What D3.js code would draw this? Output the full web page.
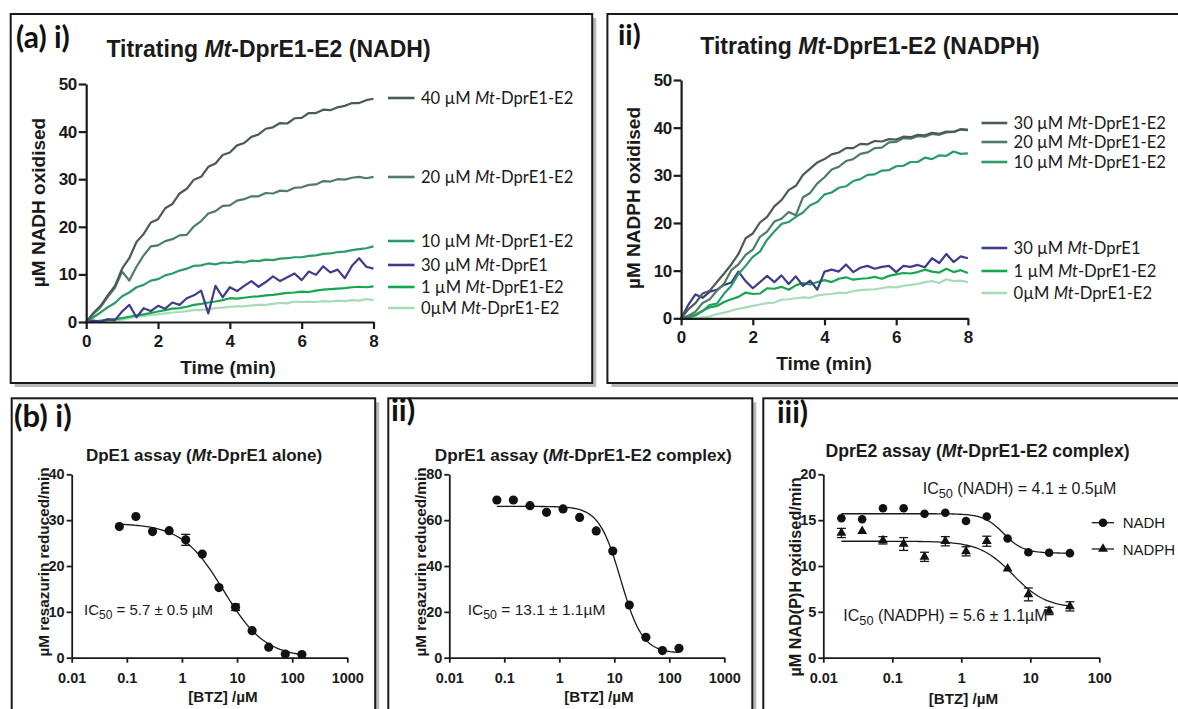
<!DOCTYPE html>
<html>
<head>
<meta charset="utf-8">
<script src="https://cdn.jsdelivr.net/npm/d3@7"></script>
<style>
  body { margin: 0; background: #fff; }
  svg { display: block; }
</style>
</head>
<body>
<svg id="chart" width="1178" height="709"></svg>
<script>
// ---- data: (a) kinetic traces, µM oxidised vs time (min) ----
const timeMin = [0,0.2,0.4,0.6,0.8,1,1.2,1.4,1.6,1.8,2,2.2,2.4,2.6,2.8,3,3.2,3.4,3.6,3.8,4,4.2,4.4,4.6,4.8,5,5.2,5.4,5.6,5.8,6,6.2,6.4,6.6,6.8,7,7.2,7.4,7.6,7.8,8];
const timeTicks = [0, 2, 4, 6, 8];

const nadhLabels = ["40 µM Mt-DprE1-E2", "20 µM Mt-DprE1-E2", "10 µM Mt-DprE1-E2", "30 µM Mt-DprE1", "1 µM Mt-DprE1-E2", "0µM Mt-DprE1-E2"];
const nadh40 = [0,1.9,3.4,5.6,7.6,11.2,13.4,16.8,18.5,20.9,21.6,23.9,24.8,27.0,28.0,29.9,30.5,32.6,33.3,35.1,35.6,37.1,37.6,38.9,39.4,40.6,40.9,41.8,41.7,42.8,42.9,43.9,43.9,44.6,44.5,45.1,45.4,46.0,46.0,46.6,46.9];
const nadh20 = [0,1.7,3.1,5.3,7.2,10.6,8.7,11.6,14.0,15.9,16.1,17.0,17.4,18.2,18.3,20.1,21.2,22.8,23.3,24.4,24.5,25.5,25.8,26.4,26.4,27.1,27.0,27.6,27.5,28.2,28.3,28.8,28.9,29.6,29.5,30.0,29.9,30.3,30.5,30.2,30.5];
const nadh10 = [0,1.0,2.0,3.1,4.0,5.4,6.2,7.3,7.8,8.7,9.0,9.8,10.2,10.8,11.2,11.8,11.9,12.3,12.1,12.5,12.4,12.7,12.5,12.9,12.8,13.1,13.0,13.3,13.4,13.6,13.6,13.9,14.0,14.3,14.4,14.7,14.8,15.1,15.3,15.5,15.9];
const nadhE1 = [0,0.3,0.1,0.6,0.4,2.2,3.6,1.0,2.9,2.3,3.4,2.8,4.1,3.6,5.0,5.6,6.6,1.8,7.6,5.2,7.3,6.5,7.6,8.6,7.4,8.4,9.6,8.6,9.4,10.2,8.8,10.6,9.9,11.7,10.4,11.0,9.2,11.8,13.4,11.6,11.2];
const nadh1 = [0,0.1,0.3,0.4,0.6,0.8,1.1,1.4,1.6,1.9,2.2,2.5,2.8,2.9,3.2,3.6,3.8,4.1,4.3,4.6,5.0,4.9,5.1,5.3,5.4,5.6,5.7,5.9,6.1,6.2,6.4,6.3,6.6,6.8,6.9,7.0,7.1,7.3,7.4,7.3,7.5];
const nadh0 = [0,0,0.1,0.1,0.3,0.5,0.8,1.1,1.3,1.5,1.6,1.8,2.0,2.1,2.3,2.5,2.5,2.7,2.9,3.0,3.2,3.3,3.3,3.5,3.6,3.6,3.8,4.0,3.9,4.3,4.2,4.3,4.2,4.4,4.3,4.5,4.4,4.6,4.5,4.8,4.6];

const nadphLabels = ["30 µM Mt-DprE1-E2", "20 µM Mt-DprE1-E2", "10 µM Mt-DprE1-E2", "30 µM Mt-DprE1", "1 µM Mt-DprE1-E2", "0µM Mt-DprE1-E2"];
const nadph30 = [0,1.9,3.2,5.2,5.8,7.6,9.4,11.3,13.5,16.8,17.8,20.1,21.3,23.5,24.8,26.9,27.8,30.1,31.4,32.7,33.4,34.4,34.8,35.7,35.7,36.6,36.5,37.2,37.1,37.6,37.5,38.1,38.0,38.5,38.4,38.9,38.7,39.2,39.1,39.6,39.5];
const nadph20 = [0,0.5,1.4,3.2,4.0,5.8,7.3,10.1,11.3,13.3,14.4,17.1,18.2,20.3,20.9,22.3,21.6,25.4,26.3,28.3,29.6,31.2,31.8,33.0,33.4,34.5,34.8,35.7,35.8,36.9,37.0,37.8,37.7,38.2,38.1,38.7,38.5,39.0,39.1,39.7,39.6];
const nadph10 = [0,0.1,0.6,1.5,2.8,3.1,5.2,6.8,9.3,11.0,12.9,14.0,16.5,18.2,19.8,20.2,21.3,22.2,23.7,24.4,26.0,26.4,27.4,27.7,28.8,29.2,30.1,30.2,31.0,31.1,31.9,32.0,32.8,32.8,33.7,33.4,34.2,34.1,35.0,34.5,34.6];
const nadphE1 = [0,2.8,5.0,4.3,5.6,6.0,7.0,7.5,9.8,7.8,6.3,7.6,8.9,7.6,9.0,7.2,8.8,6.8,7.9,6.0,9.8,10.2,9.8,11.3,9.7,10.6,11.0,10.4,10.8,11.0,9.7,11.0,10.8,11.2,10.7,12.6,11.6,13.5,11.8,13.0,12.6];
const nadph1 = [0,0.2,0.8,1.6,2.3,2.6,3.4,4.0,4.5,5.4,5.1,5.2,6.3,6.2,6.6,6.0,6.9,7.4,7.1,7.6,8.0,7.6,8.3,8.6,8.1,8.3,8.4,8.7,8.3,8.9,9.2,9.5,9.4,9.7,10.2,9.8,9.6,10.4,9.7,10.1,9.5];
const nadph0 = [0,0,0,0.2,0.4,0.9,1.2,1.6,2.0,2.3,2.6,2.9,3.2,3.3,3.9,4.0,4.2,4.4,4.3,4.8,5.0,5.1,5.4,5.3,5.7,5.9,6.0,6.1,6.3,6.6,6.5,6.8,7.0,7.2,7.6,7.8,7.4,8.2,7.8,7.9,7.6];

// ---- data: (b) BTZ dose responses ----
const logTickLabels = ["0.01", "0.1", "1", "10", "100", "1000"];
const btzHigh = [0.0732,0.146,0.293,0.586,1.17,2.34,4.69,9.38,18.75,37.5,75,150];
const btzLow = [0.0183,0.0366,0.0732,0.146,0.293,0.586,1.17,2.34,4.69,9.38,18.75,37.5];

const dpre1Alone = [28.6,30.8,27.5,27.7,25.7,22.6,15.3,11.0,5.9,2.3,0.8,0.7];
const dpre1AloneErr = [0,0,0,0,1.2,0,0,0.7,0,0,0,0];
const dpre1AloneFit = [29.3, 0, 5.7, 1.15]; // top, bottom, IC50, hill

const dpre1Complex = [68.8,68.8,66.3,63.4,64.9,61.2,55.3,46.5,23.0,8.9,3.1,4.1];
const dpre1ComplexFit = [66, 2, 13.1, 2.2];

const dpre2Nadh = [15.2,15.1,16.3,16.3,15.7,15.8,14.9,15.4,13.0,11.5,11.45,11.4];
const dpre2NadhFit = [15.7, 11.4, 4.1, 3];
const dpre2Nadph = [13.6,13.8,12.8,12.4,11.0,12.7,11.6,12.7,9.7,6.9,5.1,5.6];
const dpre2NadphErr = [0.5,0,0.4,0.7,0.5,0.5,0.5,0.55,0,0.7,0.4,0.5];
const dpre2NadphFit = [12.7, 5.4, 5.6, 1.8];

// ---- drawing ----
const ARIAL = '"Liberation Sans", Arial, sans-serif';
const CALIB = 'Lato, "Open Sans", sans-serif';
const svg = d3.select("#chart");

function panelBox(x, y, w, h) {
  svg.append("rect").attr("x", x + 4).attr("y", y + 4).attr("width", w).attr("height", h).attr("fill", "#b8b8b8");
  svg.append("rect").attr("x", x).attr("y", y).attr("width", w).attr("height", h)
    .attr("fill", "#fff").attr("stroke", "#1a1a1a").attr("stroke-width", 2);
}

// text with the "Mt" part set in italics
function richText(x, y, str, size, weight, family, anchor) {
  const t = svg.append("text").attr("x", x).attr("y", y)
    .attr("font-size", size).attr("font-weight", weight).attr("font-family", family)
    .attr("text-anchor", anchor || "start").attr("fill", "#1a1a1a");
  str.split("Mt").forEach((p, i) => {
    if (i > 0) t.append("tspan").attr("font-style", "italic").text("Mt");
    t.append("tspan").text(p);
  });
  return t;
}

function icText(x, y, sub, rest, size) {
  const t = svg.append("text").attr("x", x).attr("y", y).attr("font-size", size)
    .attr("font-family", ARIAL).attr("fill", "#1a1a1a");
  t.append("tspan").text("IC");
  t.append("tspan").attr("font-size", size * 0.8).attr("dy", 4).text(sub);
  t.append("tspan").attr("dy", -4).text(rest);
}

function panelTag(x, y, str, size) {
  svg.append("text").attr("x", x).attr("y", y).attr("font-size", size).attr("font-weight", "bold")
    .attr("font-family", CALIB).attr("fill", "#111").text(str);
}

function xLabel(x, y, str, size) {
  svg.append("text").attr("x", x).attr("y", y).attr("text-anchor", "middle").attr("font-size", size)
    .attr("font-weight", "bold").attr("font-family", ARIAL).attr("fill", "#1a1a1a").text(str);
}

function styleAxis(g, size, sw) {
  g.attr("font-size", size).attr("font-family", ARIAL).attr("font-weight", "bold");
  g.select(".domain").attr("stroke", "#1a1a1a").attr("stroke-width", sw);
  g.selectAll(".tick line").attr("stroke", "#1a1a1a").attr("stroke-width", sw);
  g.selectAll(".tick text").attr("fill", "#1a1a1a");
}

function yLabel(x, y, str, size) {
  svg.append("text").attr("transform", `translate(${x},${y}) rotate(-90)`)
    .attr("text-anchor", "middle").attr("dominant-baseline", "central")
    .attr("font-size", size).attr("font-weight", "bold").attr("font-family", ARIAL)
    .attr("fill", "#1a1a1a").text(str);
}

function kineticPanel(c) {
  const x = d3.scaleLinear().domain([0, 8]).range(c.xr);
  const y = d3.scaleLinear().domain([0, 50]).range(c.yr);
  const line = d3.line().x((d, i) => x(timeMin[i])).y(d => y(d));
  c.drawOrder.forEach(k => {
    svg.append("path").datum(c.series[k]).attr("d", line).attr("fill", "none")
      .attr("stroke", c.colors[k]).attr("stroke-width", 2.2).attr("stroke-linejoin", "round");
  });
  const gx = svg.append("g").attr("transform", `translate(0,${c.yr[0]})`)
    .call(d3.axisBottom(x).tickValues(timeTicks).tickSize(7).tickSizeOuter(0).tickPadding(6));
  styleAxis(gx, 17, 2.2);
  const gy = svg.append("g").attr("transform", `translate(${c.xr[0]},0)`)
    .call(d3.axisLeft(y).tickValues([0, 10, 20, 30, 40, 50]).tickSize(7.5).tickSizeOuter(0).tickPadding(2));
  styleAxis(gy, 17, 2.2);
  gy.selectAll(".tick text").attr("letter-spacing", -0.5);
  c.labels.forEach((lab, i) => {
    const ly = c.legY[i];
    svg.append("line").attr("x1", c.legX[0]).attr("x2", c.legX[1]).attr("y1", ly).attr("y2", ly)
      .attr("stroke", c.colors[i]).attr("stroke-width", 2.6);
    richText(c.legX[2], ly, lab, 16.6, "normal", CALIB).attr("dominant-baseline", "central");
  });
}

function fourPL(p, xv) { return p[1] + (p[0] - p[1]) / (1 + Math.pow(xv / p[2], p[3])); }

function dosePanel(c) {
  const x = d3.scaleLog().domain(c.xd).range(c.xr);
  const y = d3.scaleLinear().domain(c.yd).range(c.yr);
  c.sets.forEach(s => {
    const lo = Math.log10(s.xs[0]), hi = Math.log10(s.xs[s.xs.length - 1]);
    const pts = d3.range(0, 101).map(i => Math.pow(10, lo + (hi - lo) * i / 100));
    svg.append("path").datum(pts)
      .attr("d", d3.line().x(d => x(d)).y(d => y(fourPL(s.fit, d))))
      .attr("fill", "none").attr("stroke", "#1a1a1a").attr("stroke-width", 1.3);
    if (s.err) {
      s.err.forEach((e, i) => {
        if (!e) return;
        const cx = x(s.xs[i]);
        const g = svg.append("g").attr("stroke", "#1a1a1a").attr("stroke-width", 1.3);
        g.append("line").attr("x1", cx).attr("x2", cx).attr("y1", y(s.ys[i] - e)).attr("y2", y(s.ys[i] + e));
        [s.ys[i] - e, s.ys[i] + e].forEach(v => g.append("line").attr("x1", cx - 4.5).attr("x2", cx + 4.5).attr("y1", y(v)).attr("y2", y(v)));
      });
    }
    svg.append("g").selectAll("path").data(s.ys).join("path")
      .attr("transform", (d, i) => `translate(${x(s.xs[i])},${y(d)})`)
      .attr("d", d3.symbol(s.shape, s.size)).attr("fill", "#111");
  });
  const gx = svg.append("g").attr("transform", `translate(0,${c.yr[0]})`)
    .call(d3.axisBottom(x).tickValues(c.xticks).tickFormat((d, i) => logTickLabels[i])
      .tickSize(5).tickSizeOuter(0).tickPadding(10));
  styleAxis(gx, 14.5, 1.8);
  const gy = svg.append("g").attr("transform", `translate(${c.xr[0]},0)`)
    .call(d3.axisLeft(y).tickValues(c.yticks).tickSize(5).tickSizeOuter(0).tickPadding(2));
  styleAxis(gy, 14.5, 1.8);
}

// panel frames
panelBox(10.7, 14, 581.5, 369);
panelBox(607.4, 14, 580, 369);
panelBox(11.7, 398.3, 363.5, 330);
panelBox(388.3, 398.3, 364, 330);
panelBox(763.3, 398.3, 430, 330);

// (a) i
panelTag(16, 48, "(a) i)", 30);
richText(268.5, 57, "Titrating Mt-DprE1-E2 (NADH)", 23, "bold", ARIAL, "middle");
kineticPanel({
  xr: [86.2, 373.5], yr: [322, 84],
  series: [nadh40, nadh20, nadh10, nadhE1, nadh1, nadh0],
  colors: ["#4b5b54", "#4f7b67", "#2b9b68", "#3f3c8c", "#16a64c", "#a8dcb9"],
  drawOrder: [5, 4, 2, 3, 1, 0],
  labels: nadhLabels,
  legX: [388, 414.5, 421],
  legY: [98, 177, 241, 265, 287, 308]
});
yLabel(38, 202.5, "µM NADH oxidised", 19);
xLabel(228, 374, "Time (min)", 19);

// (a) ii
panelTag(618, 45, "ii)", 29);
richText(870, 54, "Titrating Mt-DprE1-E2 (NADPH)", 23, "bold", ARIAL, "middle");
kineticPanel({
  xr: [681.1, 967.9], yr: [318.3, 80],
  series: [nadph30, nadph20, nadph10, nadphE1, nadph1, nadph0],
  colors: ["#4b5b54", "#4f7b67", "#2b9b68", "#3f3c8c", "#16a64c", "#a8dcb9"],
  drawOrder: [5, 4, 3, 2, 1, 0],
  labels: nadphLabels,
  legX: [981.5, 1007.3, 1013.6],
  legY: [123, 142, 162, 248, 271, 293]
});
yLabel(633, 198, "µM NADPH oxidised", 19);
xLabel(824, 370, "Time (min)", 19);

// (b) i
panelTag(14, 427, "(b) i)", 31);
richText(204, 461, "DpE1 assay (Mt-DprE1 alone)", 17, "bold", ARIAL, "middle");
dosePanel({
  xd: [0.01, 1000], xr: [71.7, 347.3], yd: [0, 40], yr: [657.7, 474.3],
  xticks: [0.01, 0.1, 1, 10, 100, 1000], yticks: [0, 10, 20, 30, 40],
  sets: [{ xs: btzHigh, ys: dpre1Alone, err: dpre1AloneErr, fit: dpre1AloneFit, shape: d3.symbolCircle, size: 66 }]
});
yLabel(43.3, 562, "µM resazurin reduced/min", 15.3);
xLabel(223, 702, "[BTZ] /µM", 15.2);
icText(84, 615, "50", " = 5.7 ± 0.5 µM", 15);

// (b) ii
panelTag(391, 421, "ii)", 31);
richText(583.3, 461, "DprE1 assay (Mt-DprE1-E2 complex)", 17.2, "bold", ARIAL, "middle");
dosePanel({
  xd: [0.01, 1000], xr: [449.3, 724.3], yd: [0, 80], yr: [657.7, 474.3],
  xticks: [0.01, 0.1, 1, 10, 100, 1000], yticks: [0, 20, 40, 60, 80],
  sets: [{ xs: btzHigh, ys: dpre1Complex, fit: dpre1ComplexFit, shape: d3.symbolCircle, size: 66 }]
});
yLabel(420, 562, "µM resazurin reduced/min", 15.3);
xLabel(599, 702, "[BTZ] /µM", 15.2);
icText(467.7, 615, "50", " = 13.1 ± 1.1µM", 15.5);

// (b) iii
panelTag(777, 423, "iii)", 30);
richText(977.5, 457, "DprE2 assay (Mt-DprE1-E2 complex)", 17.6, "bold", ARIAL, "middle");
dosePanel({
  xd: [0.01, 100], xr: [823.3, 1099.3], yd: [0, 20], yr: [657.7, 474.3],
  xticks: [0.01, 0.1, 1, 10, 100], yticks: [0, 5, 10, 15, 20],
  sets: [
    { xs: btzLow, ys: dpre2Nadh, fit: dpre2NadhFit, shape: d3.symbolCircle, size: 58 },
    { xs: btzLow, ys: dpre2Nadph, err: dpre2NadphErr, fit: dpre2NadphFit, shape: d3.symbolTriangle, size: 42 }
  ]
});
yLabel(795, 577, "µM NAD(P)H oxidised/min", 16.2);
xLabel(963.5, 704, "[BTZ] /µM", 15.2);
icText(922.7, 494, "50", " (NADH) = 4.1 ± 0.5µM", 16);
icText(843.3, 621, "50", " (NADPH) = 5.6 ± 1.1µM", 16);

// (b) iii legend
[["NADH", d3.symbolCircle, 58, 522.7], ["NADPH", d3.symbolTriangle, 42, 549]].forEach(([lab, shp, sz, ly]) => {
  svg.append("line").attr("x1", 1091.7).attr("x2", 1114).attr("y1", ly).attr("y2", ly)
    .attr("stroke", "#1a1a1a").attr("stroke-width", 1.3);
  svg.append("path").attr("transform", `translate(1103,${ly})`).attr("d", d3.symbol(shp, sz)).attr("fill", "#111");
  svg.append("text").attr("x", 1122.7).attr("y", ly).attr("dominant-baseline", "central")
    .attr("font-size", 15).attr("font-family", ARIAL).attr("fill", "#1a1a1a").text(lab);
});
</script>
</body>
</html>
